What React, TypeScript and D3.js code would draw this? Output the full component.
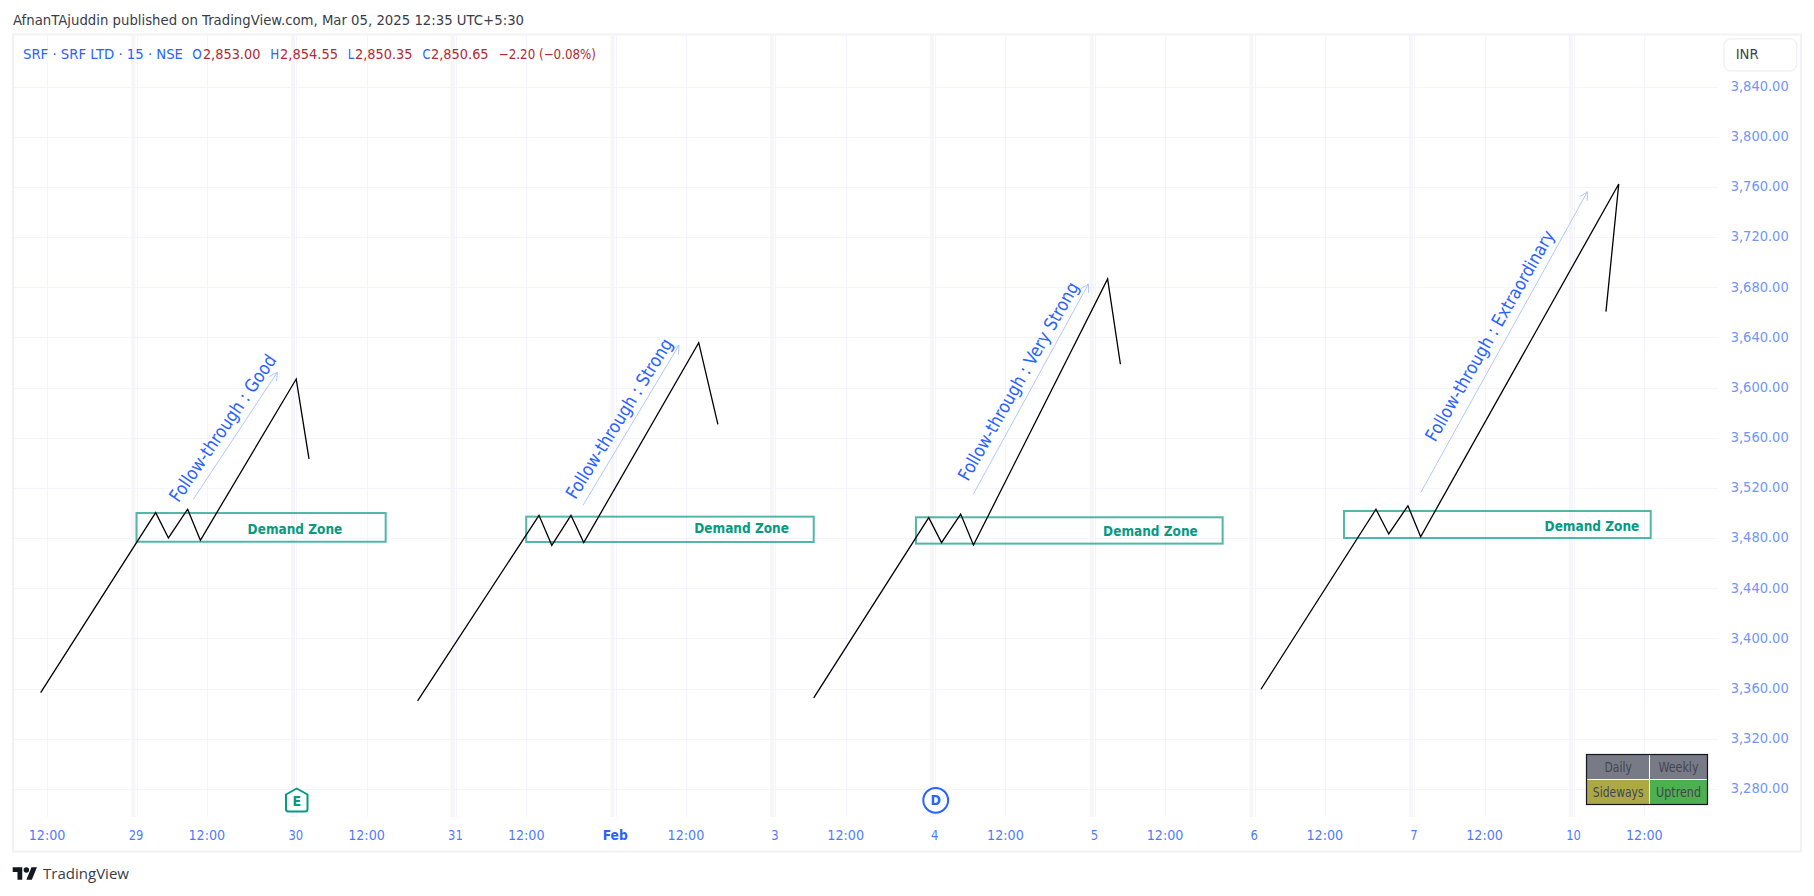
import React from 'react';
import * as d3 from 'd3';

// ---- data ----
const priceTicks = [3840, 3800, 3760, 3720, 3680, 3640, 3600, 3560, 3520, 3480, 3440, 3400, 3360, 3320, 3280];
const dayLabels = ['29', '30', '31', 'Feb', '3', '4', '5', '6', '7', '10'];
const noonLabel = '12:00';
const barsPerDay = 25;
const noonOffset = 11;

const leg1Bars = [-15, 3, 5, 8, 10, 25, 27];
const leg1Vals = [3356.8, 3500.3, 3480.1, 3503, 3478.3, 3606.8, 3543.1];
const leg2Bars = [44, 63, 65, 68, 70, 88, 91];
const leg2Vals = [3350.2, 3498.2, 3474.3, 3498.2, 3476.4, 3635.8, 3570.7];
const leg3Bars = [106, 124, 126, 129, 131, 152, 154];
const leg3Vals = [3352.6, 3496.3, 3476.4, 3499.2, 3474.5, 3686.6, 3618.6];
const leg4Bars = [176, 194, 196, 199, 201, 232, 230];
const leg4Vals = [3359.5, 3503, 3483.3, 3505.8, 3481.1, 3762.3, 3660.5];
const legBars = [leg1Bars, leg2Bars, leg3Bars, leg4Bars];
const legVals = [leg1Vals, leg2Vals, leg3Vals, leg4Vals];

const zoneBarsFrom = [0, 61, 122, 189];
const zoneBarsTo = [39, 106, 170, 237];
const zoneTop = [3500, 3497.1, 3496.6, 3501.6];
const zoneBottom = [3477.1, 3476.9, 3475.6, 3480.1];
const zoneLabelBars = [24.8, 94.7, 158.7, 227.8];
const zoneLabelVals = [3487, 3488.1, 3485.9, 3489.7];

const arrowBarsFrom = [8.9, 69.9, 131, 201];
const arrowBarsTo = [22.04, 84.9, 149, 227.1];
const arrowValsFrom = [3511, 3506.2, 3515.2, 3516.2];
const arrowValsTo = [3612.2, 3633.7, 3682.6, 3756.1];
const followLabels = ['Follow-through : Good', 'Follow-through : Strong', 'Follow-through : Very Strong', 'Follow-through : Extraordinary'];
const followBars = [13.46, 75.5, 138, 211.8];
const followVals = [3567.8, 3575.4, 3605.2, 3641.5];
const followLengths = [174, 185, 225, 240];

const tableRows = [['Daily', 'Weekly'], ['Sideways', 'Uptrend']];
const tableLengths = [[27.3, 40], [50.7, 45]];

// ---- layout ----
const W = 1814, H = 896;
const FONT = '"DejaVu Sans", sans-serif';
const CONDENSED = '"DejaVu Sans Condensed", "DejaVu Sans", sans-serif';
const BLUE = '#2962ff';
const RED = '#b22833';
const TEAL = '#089981';
const GRID = '#f3f4ff';
const BAND = '#f6f6f8';
const FRAME = '#f1f2f5';
const PLOT = { left: 14, right: 1718, top: 35, bottom: 817 };

const x = d3.scaleLinear().domain([0, 225]).range([136.5, 136.5 + 225 * 6.389]);
const y = d3.scaleLinear().domain([3280, 3840]).range([789, 86.5]);

const dayBars = dayLabels.map((_, i) => i * barsPerDay);
const noonBars = [-1, ...dayLabels.map((_, i) => i)].map((d) => d * barsPerDay + noonOffset);

const lineGen = d3.line<[number, number]>().x((d) => x(d[0])).y((d) => y(d[1]));

function arrowHead(x0: number, y0: number, x1: number, y1: number) {
  const a = Math.atan2(y1 - y0, x1 - x0);
  const L = 9, s = 0.5;
  const p = (t: number) => `${x1 - L * Math.cos(a + t)},${y1 - L * Math.sin(a + t)}`;
  return `M${p(s)}L${x1},${y1}L${p(-s)}`;
}

const angleOf = (i: number) => {
  const dx = x(arrowBarsTo[i]) - x(arrowBarsFrom[i]);
  const dy = y(arrowValsTo[i]) - y(arrowValsFrom[i]);
  return (Math.atan2(dy, dx) * 180) / Math.PI;
};

const fit = (n: number) => ({ textLength: n, lengthAdjust: 'spacingAndGlyphs' as const });
const dayWidth = (d: string) => (d === 'Feb' ? 25 : d.length * 7.35);

export default function App() {
  return (
    <svg width={W} height={H} viewBox={`0 0 ${W} ${H}`} style={{ position: 'absolute', left: 0, top: 0, display: 'block', background: '#fff' }} fontFamily={FONT}>
      <rect width={W} height={H} fill="#fff" />
      <text x={13} y={24.5} fontSize={13.5} fill="#3a3d47" {...fit(511)}>AfnanTAjuddin published on TradingView.com, Mar 05, 2025 12:35 UTC+5:30</text>

      {/* frame */}
      <rect x={13} y={34.5} width={1788} height={817} fill="none" stroke={FRAME} strokeWidth={2} />

      {/* grid */}
      {dayBars.map((b) => (
        <rect key={`band${b}`} x={x(b) - 5.2} y={PLOT.top} width={4} height={PLOT.bottom - PLOT.top} fill={BAND} />
      ))}
      {priceTicks.map((v) => (
        <line key={v} x1={PLOT.left} x2={PLOT.right} y1={Math.round(y(v)) + 0.5} y2={Math.round(y(v)) + 0.5} stroke={GRID} />
      ))}
      {[...dayBars, ...noonBars].map((b) => (
        <line key={`v${b}`} x1={Math.round(x(b)) + 0.5} x2={Math.round(x(b)) + 0.5} y1={PLOT.top} y2={PLOT.bottom} stroke={GRID} />
      ))}

      {/* demand zones */}
      {zoneBarsFrom.map((b, i) => (
        <g key={`z${i}`}>
          <rect x={x(b)} y={y(zoneTop[i])} width={x(zoneBarsTo[i]) - x(b)} height={y(zoneBottom[i]) - y(zoneTop[i])} fill="none" stroke={TEAL} strokeOpacity={0.7} strokeWidth={2} />
          <text x={x(zoneLabelBars[i])} y={y(zoneLabelVals[i])} dy="0.36em" textAnchor="middle" fontFamily={CONDENSED} fontSize={14} fontWeight={700} fill={TEAL} {...fit(94.7)}>Demand Zone</text>
        </g>
      ))}

      {/* price legs */}
      {legBars.map((bars, i) => (
        <path key={`l${i}`} d={lineGen(bars.map((b, j) => [b, legVals[i][j]] as [number, number])) || ''} fill="none" stroke="#000" strokeWidth={1.3} />
      ))}

      {/* follow-through arrows */}
      {arrowBarsFrom.map((b, i) => {
        const x0 = x(b), y0 = y(arrowValsFrom[i]), x1 = x(arrowBarsTo[i]), y1 = y(arrowValsTo[i]);
        return (
          <g key={`a${i}`} fill="none" stroke="#b3c7ff" strokeWidth={1}>
            <line x1={x0} y1={y0} x2={x1} y2={y1} />
            <path d={arrowHead(x0, y0, x1, y1)} />
          </g>
        );
      })}
      {followLabels.map((t, i) => (
        <text key={t} transform={`translate(${x(followBars[i])},${y(followVals[i])}) rotate(${angleOf(i) + 1})`} dy="0.36em" textAnchor="middle" fontFamily={CONDENSED} fontSize={18} fill={BLUE} {...fit(followLengths[i])}>{t}</text>
      ))}

      {/* legend */}
      <g fontSize={13.5} fill={BLUE}>
        <text x={23} y={59} {...fit(160)}>SRF · SRF LTD · 15 · NSE</text>
        <text x={192.2} y={59} {...fit(9.5)}>O</text>
        <text x={202.9} y={59} fill={RED} {...fit(57.5)}>2,853.00</text>
        <text x={270.2} y={59} {...fit(9)}>H</text>
        <text x={280} y={59} fill={RED} {...fit(58)}>2,854.55</text>
        <text x={347.8} y={59} {...fit(6.5)}>L</text>
        <text x={355} y={59} fill={RED} {...fit(57.5)}>2,850.35</text>
        <text x={422.4} y={59} {...fit(8)}>C</text>
        <text x={431} y={59} fill={RED} {...fit(57.6)}>2,850.65</text>
        <text x={498.8} y={59} fill={RED} {...fit(97.2)}>−2.20 (−0.08%)</text>
      </g>

      {/* price axis */}
      <rect x={1724} y={38.7} width={72.7} height={32.3} rx={7} fill="#fff" stroke={FRAME} strokeWidth={1.5} />
      <text x={1735.7} y={59} fontSize={13.5} fill="#3f424c" {...fit(23)}>INR</text>
      {priceTicks.map((v) => (
        <text key={`p${v}`} x={1730.7} y={y(v) - 0.5} dy="0.36em" fontSize={13.5} fill="#6f95fb" {...fit(58)}>{d3.format(',.2f')(v)}</text>
      ))}

      {/* time axis */}
      {noonBars.map((b) => (
        <text key={`n${b}`} x={x(b)} y={835} dy="0.36em" textAnchor="middle" fontSize={13.5} fill={BLUE} fillOpacity={0.85} {...fit(36.7)}>{noonLabel}</text>
      ))}
      {dayLabels.map((d, i) => (
        <text key={`d${d}`} x={x(dayBars[i]) - 0.5} y={835} dy="0.36em" textAnchor="middle" fontSize={13.5} fontWeight={d === 'Feb' ? 700 : 400} fill={BLUE} fillOpacity={d === 'Feb' ? 1 : 0.85} {...fit(dayWidth(d))}>{d}</text>
      ))}

      {/* event markers */}
      <path d="M296.7,788.5 L307.5,794.5 V809 Q307.5,811.5 305,811.5 H288.5 Q286,811.5 286,809 V794.5 Z" fill="#fff" stroke={TEAL} strokeWidth={2} strokeLinejoin="round" />
      <text x={296.7} y={801} dy="0.36em" textAnchor="middle" fontFamily={CONDENSED} fontSize={14} fontWeight={700} fill={TEAL}>E</text>
      <circle cx={935.7} cy={800.3} r={12.4} fill="#fff" stroke={BLUE} strokeWidth={2} />
      <text x={935.7} y={800.3} dy="0.36em" textAnchor="middle" fontFamily={CONDENSED} fontSize={14} fontWeight={700} fill={BLUE}>D</text>

      {/* status table */}
      <g>
        <rect x={1587} y={755} width={62.5} height={24.5} fill="#787b86" />
        <rect x={1649.5} y={755} width={57.5} height={24.5} fill="#787b86" />
        <rect x={1587} y={779.5} width={62.5} height={24.5} fill="#aca846" />
        <rect x={1649.5} y={779.5} width={57.5} height={24.5} fill="#4caf50" />
        <line x1={1649.5} x2={1649.5} y1={755} y2={804} stroke="#fff" strokeWidth={1} />
        <line x1={1587} x2={1707} y1={779.5} y2={779.5} stroke="#fff" strokeWidth={1} />
        <rect x={1586.5} y={754.5} width={121} height={50} fill="none" stroke="#131722" strokeWidth={1.2} />
        {tableRows.map((row, r) => row.map((t, c) => (
          <text key={t} x={c === 0 ? 1618.2 : 1678.5} y={767.5 + r * 25} dy="0.36em" textAnchor="middle" fontFamily={CONDENSED} fontSize={13.5} fill="#434651" {...fit(tableLengths[r][c])}>{t}</text>
        )))}
      </g>

      {/* footer */}
      <g transform="translate(12.7,864.6) scale(0.683)" fill="#131722">
        <path d="M14 22H7V11H0V4h14v18zM28 22h-8l7.5-18h8L28 22z" />
        <circle cx={20} cy={8} r={4} />
      </g>
      <text x={43} y={879} fontFamily='"Open Sans", sans-serif' fontSize={15} fill="#3a3d47" {...fit(86)}>TradingView</text>
    </svg>
  );
}
